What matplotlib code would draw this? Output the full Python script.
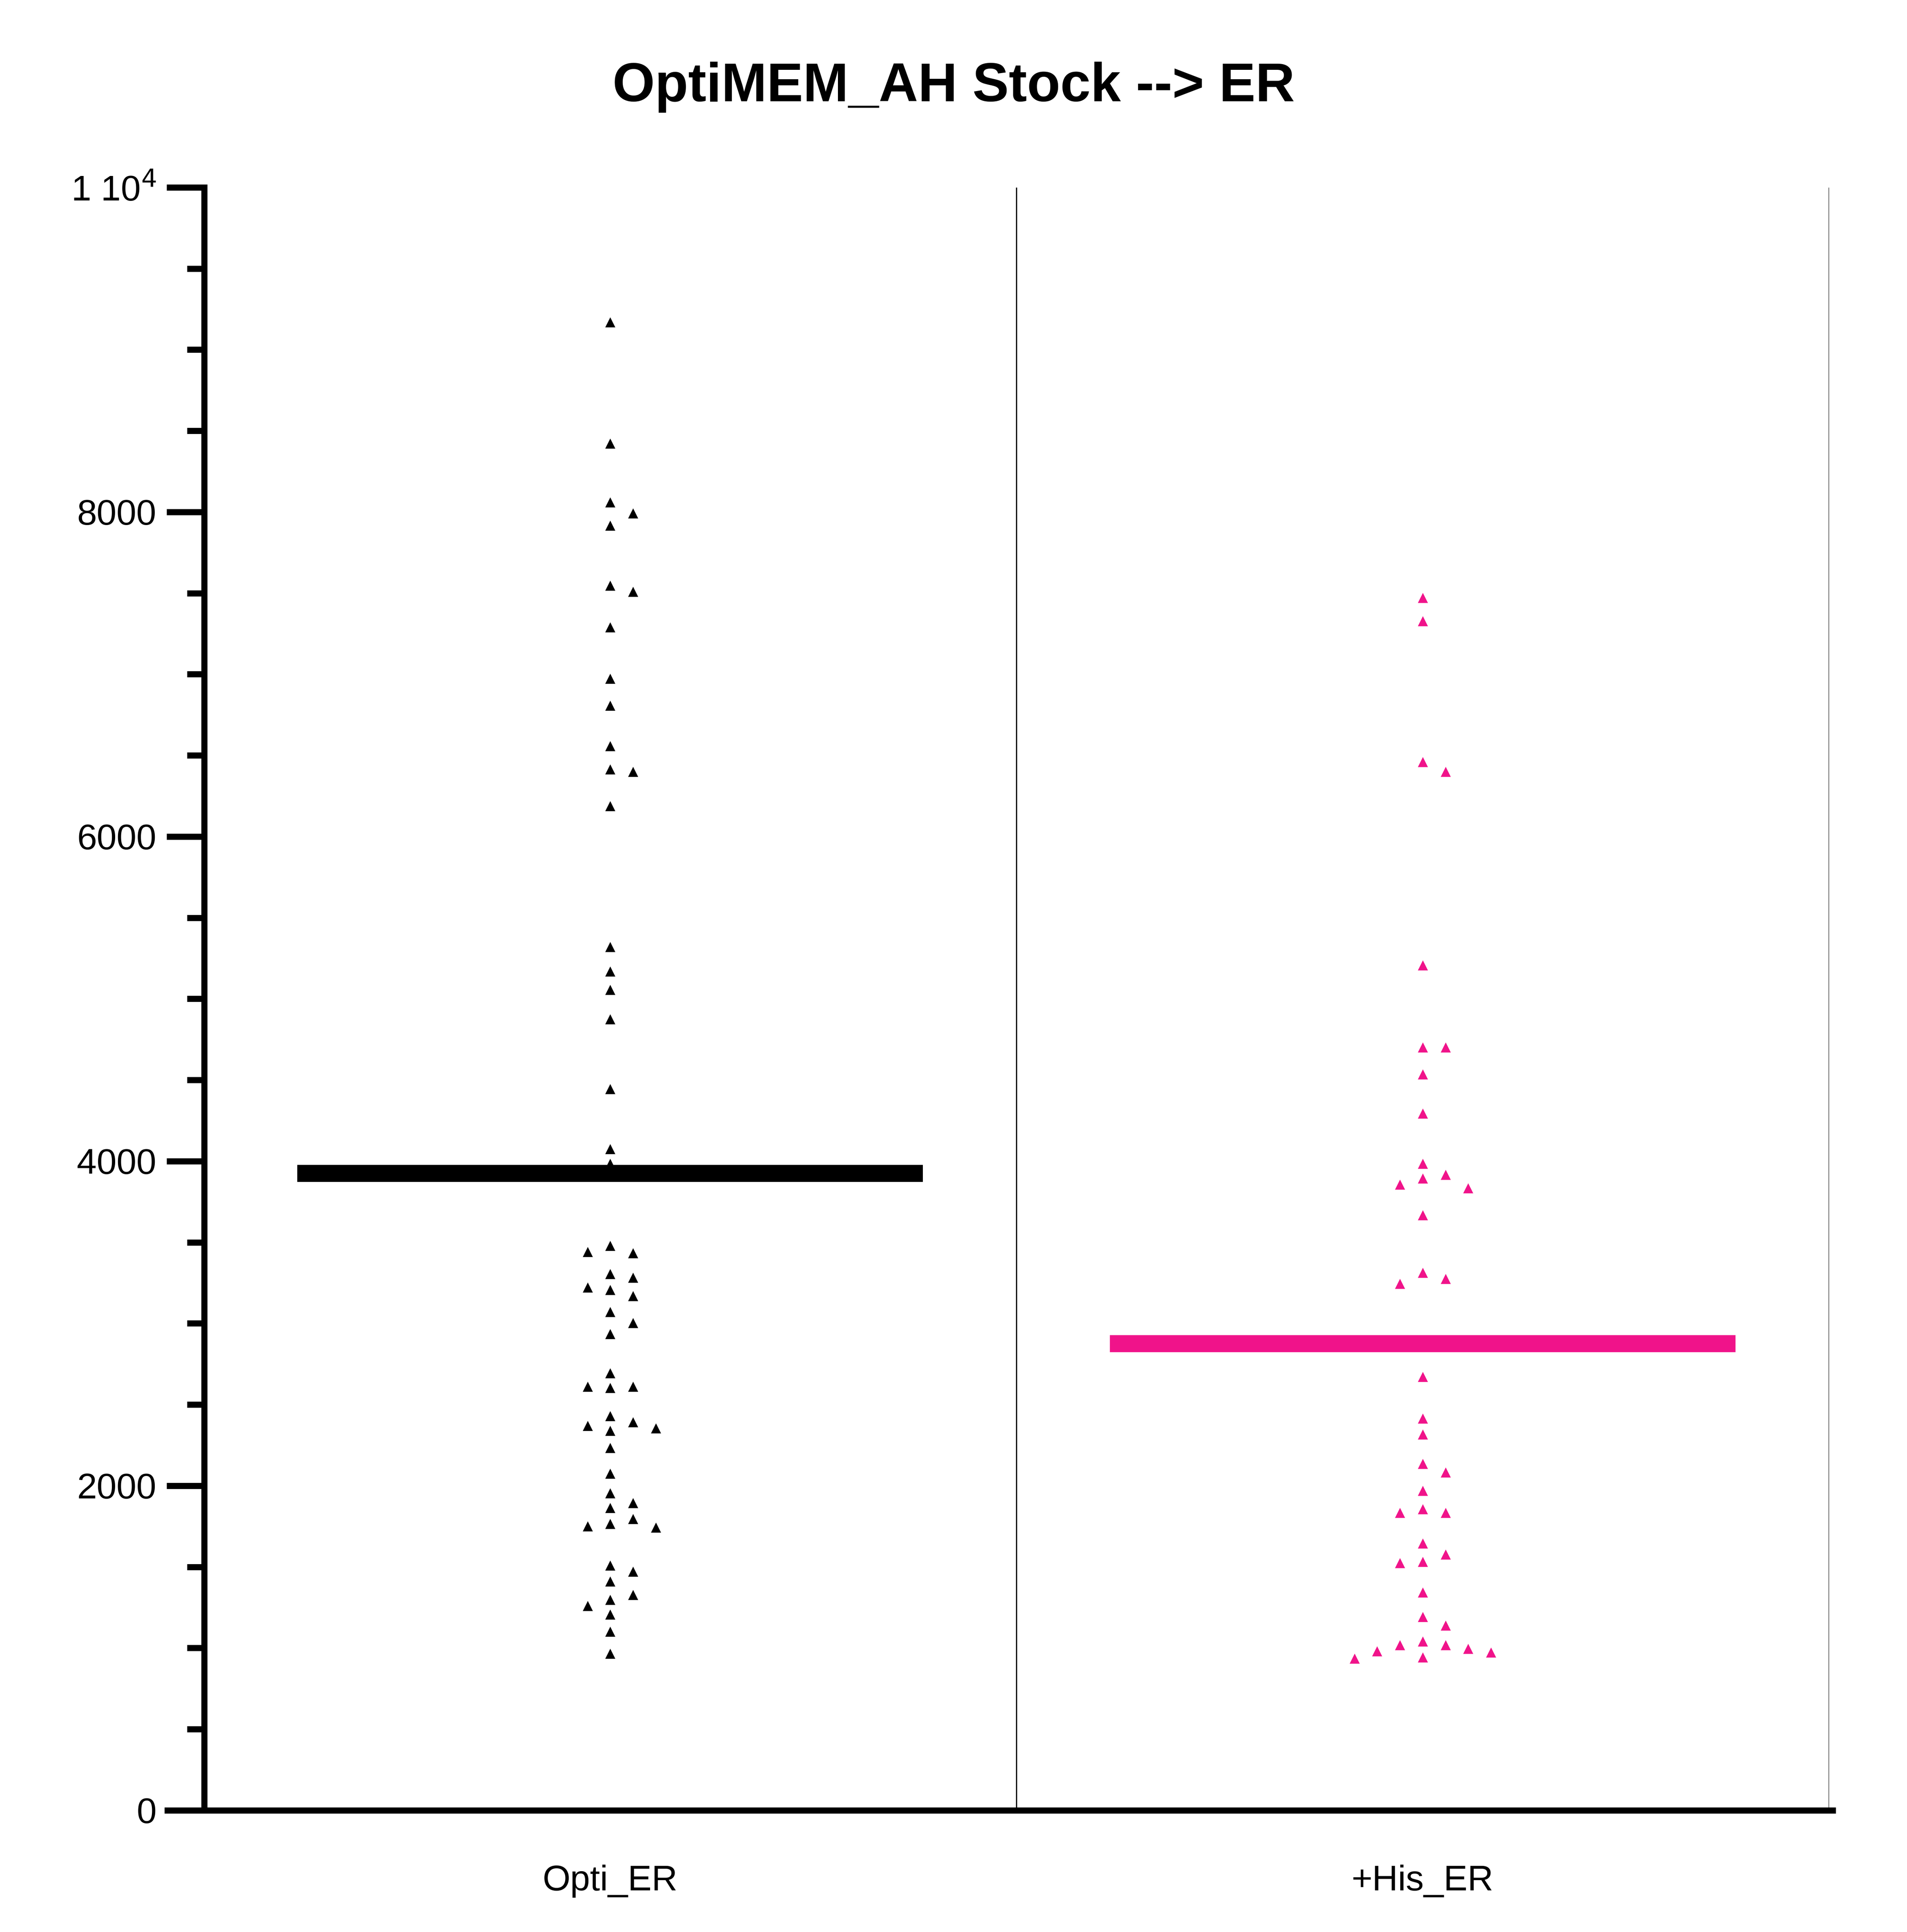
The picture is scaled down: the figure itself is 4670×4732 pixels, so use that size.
import matplotlib
matplotlib.use("Agg")

import numpy as np
import matplotlib.pyplot as plt
from matplotlib.ticker import FixedLocator, FuncFormatter

plt.rcParams["font.family"] = ["Liberation Sans", "DejaVu Sans"]

groups = ["Opti_ER", "+His_ER"]
colors = ["black", "#f0138a"]
means = [3925, 2875]

opti_er = [9170, 8423, 8060, 7992, 7917, 7547, 7509, 7291, 6974, 6808, 6558, 6415,
           6400, 6189, 5321, 5170, 5057, 4875, 4445, 4075, 3985, 3479, 3434, 3442,
           3306, 3283, 3223, 3208, 3170, 3072, 3004, 2936, 2694, 2611, 2611, 2604,
           2430, 2392, 2370, 2355, 2340, 2234, 2075, 1955, 1894, 1864, 1796, 1766,
           1751, 1743, 1509, 1472, 1411, 1328, 1298, 1260, 1208, 1102, 966]
his_er = [7472, 7328, 6460, 6400, 5208, 4702, 4702, 4536, 4294, 3985, 3917, 3894,
          3857, 3834, 3668, 3313, 3275, 3245, 2672, 2415, 2317, 2136, 2083, 1970,
          1857, 1834, 1834, 1645, 1577, 1532, 1525, 1343, 1192, 1140, 1042, 1019,
          1019, 996, 981, 974, 943, 936]


def swarm(values, step=0.028, thr=90):
    placed = []
    out = []
    order = [0]
    for i in range(1, 20):
        order += [i, -i]
    for v in values:
        for k in order:
            if all(not (c == k and abs(v - pv) < thr) for c, pv in placed):
                break
        placed.append((k, v))
        out.append(k * step)
    return np.array(out)


fig = plt.figure(figsize=(4670 / 300, 4732 / 300), dpi=300)
ax = fig.add_axes([0.107, 0.063, 0.852, 0.840])

for i, vals in enumerate([opti_er, his_er]):
    vals = np.array(vals)
    xs = i + 0.5 + swarm(vals)
    ax.scatter(xs, vals, marker="^", s=35, color=colors[i], linewidths=0, zorder=3)
    ax.hlines(means[i], i + 0.5 - 0.385, i + 0.5 + 0.385, color=colors[i], lw=10, zorder=4)

ax.vlines([1, 2], 0, 10000, color="black", lw=0.7)

ax.set_xlim(0, 2.0)
ax.set_ylim(0, 10000)
ax.set_xticks([0.5, 1.5])
ax.set_xticklabels(groups, fontsize=21)
ax.tick_params(axis="x", length=0, pad=32)

ax.yaxis.set_major_locator(FixedLocator(np.arange(0, 10001, 2000)))
ax.yaxis.set_minor_locator(FixedLocator(np.arange(0, 10001, 500)))
ax.yaxis.set_major_formatter(FuncFormatter(
    lambda v, p: r"1 10$^{4}$" if v == 10000 else f"{int(v)}"))
ax.tick_params(axis="y", which="major", length=22, width=3.6, labelsize=21, pad=6)
ax.tick_params(axis="y", which="minor", length=10, width=3.6)

for s in ["top", "right"]:
    ax.spines[s].set_visible(False)
for s in ["left", "bottom"]:
    ax.spines[s].set_linewidth(3.6)
ax.spines["bottom"].set_bounds(-0.045, 2.005)

fig.suptitle("OptiMEM_AH Stock --> ER", fontsize=32, fontweight="bold", y=0.968)

fig.savefig("out.png", dpi=300)
plt.close(fig)
